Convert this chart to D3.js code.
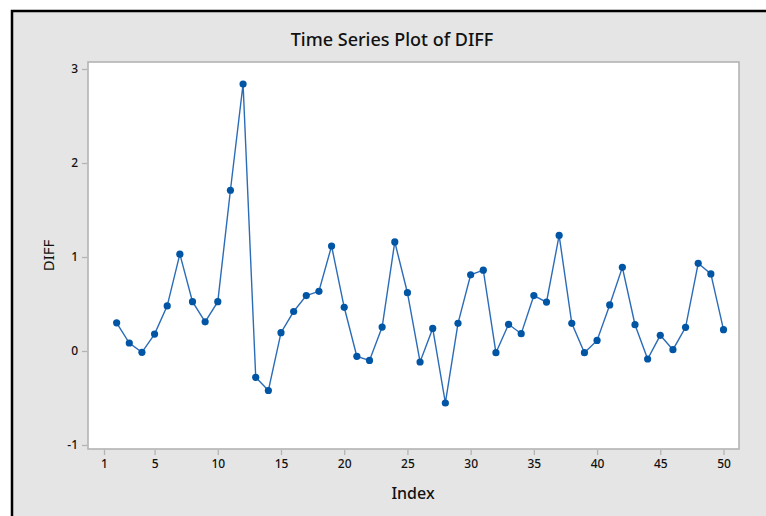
<!DOCTYPE html>
<html>
<head>
<meta charset="utf-8">
<script src="https://cdn.jsdelivr.net/npm/d3@7"></script>
<style>
  body { margin: 0; background: #fff; }
  text { font-family: "Noto Sans", "Open Sans", sans-serif; fill: #111; }
</style>
</head>
<body>
<script>
// index 1 has no difference, series starts at 2
var index = d3.range(2, 51);
var diff = [0.30, 0.085, -0.014, 0.18, 0.48, 1.03, 0.525, 0.31, 0.525, 1.71,
            2.84, -0.28, -0.42, 0.195, 0.42, 0.59, 0.635, 1.117, 0.465, -0.057,
            -0.10, 0.255, 1.16, 0.62, -0.117, 0.24, -0.553, 0.294, 0.81, 0.86,
            -0.018, 0.284, 0.184, 0.59, 0.52, 1.23, 0.294, -0.018, 0.113, 0.49,
            0.89, 0.28, -0.085, 0.167, 0.014, 0.252, 0.933, 0.82, 0.227];
var xTicks = [1, 5, 10, 15, 20, 25, 30, 35, 40, 45, 50];
var yTicks = [-1, 0, 1, 2, 3];

var W = 766, H = 516;
var plotL = 88, plotR = 739, plotT = 62, plotB = 449;

var svg = d3.select("body").append("svg")
  .attr("width", W)
  .attr("height", H);

// grey panel with black frame
svg.append("rect").attr("width", W).attr("height", H).attr("fill", "#fff");
svg.append("rect")
  .attr("x", 12).attr("y", 11)
  .attr("width", W).attr("height", H)
  .attr("fill", "#e5e5e5")
  .attr("stroke", "#000")
  .attr("stroke-width", 2.5);

var x = d3.scaleLinear().domain([1, 50]).range([104, 723.5]);
var y = d3.scaleLinear().domain([-1, 3]).range([445, 69]);

svg.append("rect")
  .attr("x", plotL).attr("y", plotT)
  .attr("width", plotR - plotL).attr("height", plotB - plotT)
  .attr("fill", "#fff")
  .attr("stroke", "#b3b3b3")
  .attr("stroke-width", 1.6);

var xAxis = svg.append("g")
  .attr("transform", "translate(0," + (plotB + 1) + ")")
  .call(d3.axisBottom(x).tickValues(xTicks).tickSize(5).tickPadding(4));

var yAxis = svg.append("g")
  .attr("transform", "translate(" + (plotL - 1) + ",0)")
  .call(d3.axisLeft(y).tickValues(yTicks).tickSize(5).tickPadding(4)
        .tickFormat(function (d) { return d < 0 ? "-" + Math.abs(d) : d; }));

[xAxis, yAxis].forEach(function (g) {
  g.select(".domain").remove();
  g.selectAll(".tick line").attr("stroke", "#b3b3b3").attr("stroke-width", 1.3);
  g.selectAll(".tick text")
    .style("font-family", "'Noto Sans', 'Open Sans', sans-serif")
    .style("font-size", "12px")
    .style("font-weight", "500")
    .attr("fill", "#1a1a1a");
});

var line = d3.line()
  .x(function (d, i) { return x(index[i]); })
  .y(function (d) { return y(d); });

svg.append("path")
  .datum(diff)
  .attr("d", line)
  .attr("fill", "none")
  .attr("stroke", "#2b6cb8")
  .attr("stroke-width", 1.4);

svg.selectAll("circle.pt")
  .data(diff)
  .enter()
  .append("circle")
  .attr("class", "pt")
  .attr("cx", function (d, i) { return x(index[i]); })
  .attr("cy", function (d) { return y(d); })
  .attr("r", 3.6)
  .attr("fill", "#0055a5");

svg.append("text")
  .attr("x", 392).attr("y", 46)
  .attr("text-anchor", "middle")
  .style("font-size", "18px")
  .style("font-weight", "500")
  .text("Time Series Plot of DIFF");

svg.append("text")
  .attr("x", 413).attr("y", 499)
  .attr("text-anchor", "middle")
  .style("font-size", "16px")
  .style("font-weight", "500")
  .text("Index");

svg.append("text")
  .attr("transform", "translate(54," + ((plotT + plotB) / 2) + ") rotate(-90)")
  .attr("text-anchor", "middle")
  .style("font-size", "15px")
  .text("DIFF");
</script>
</body>
</html>
